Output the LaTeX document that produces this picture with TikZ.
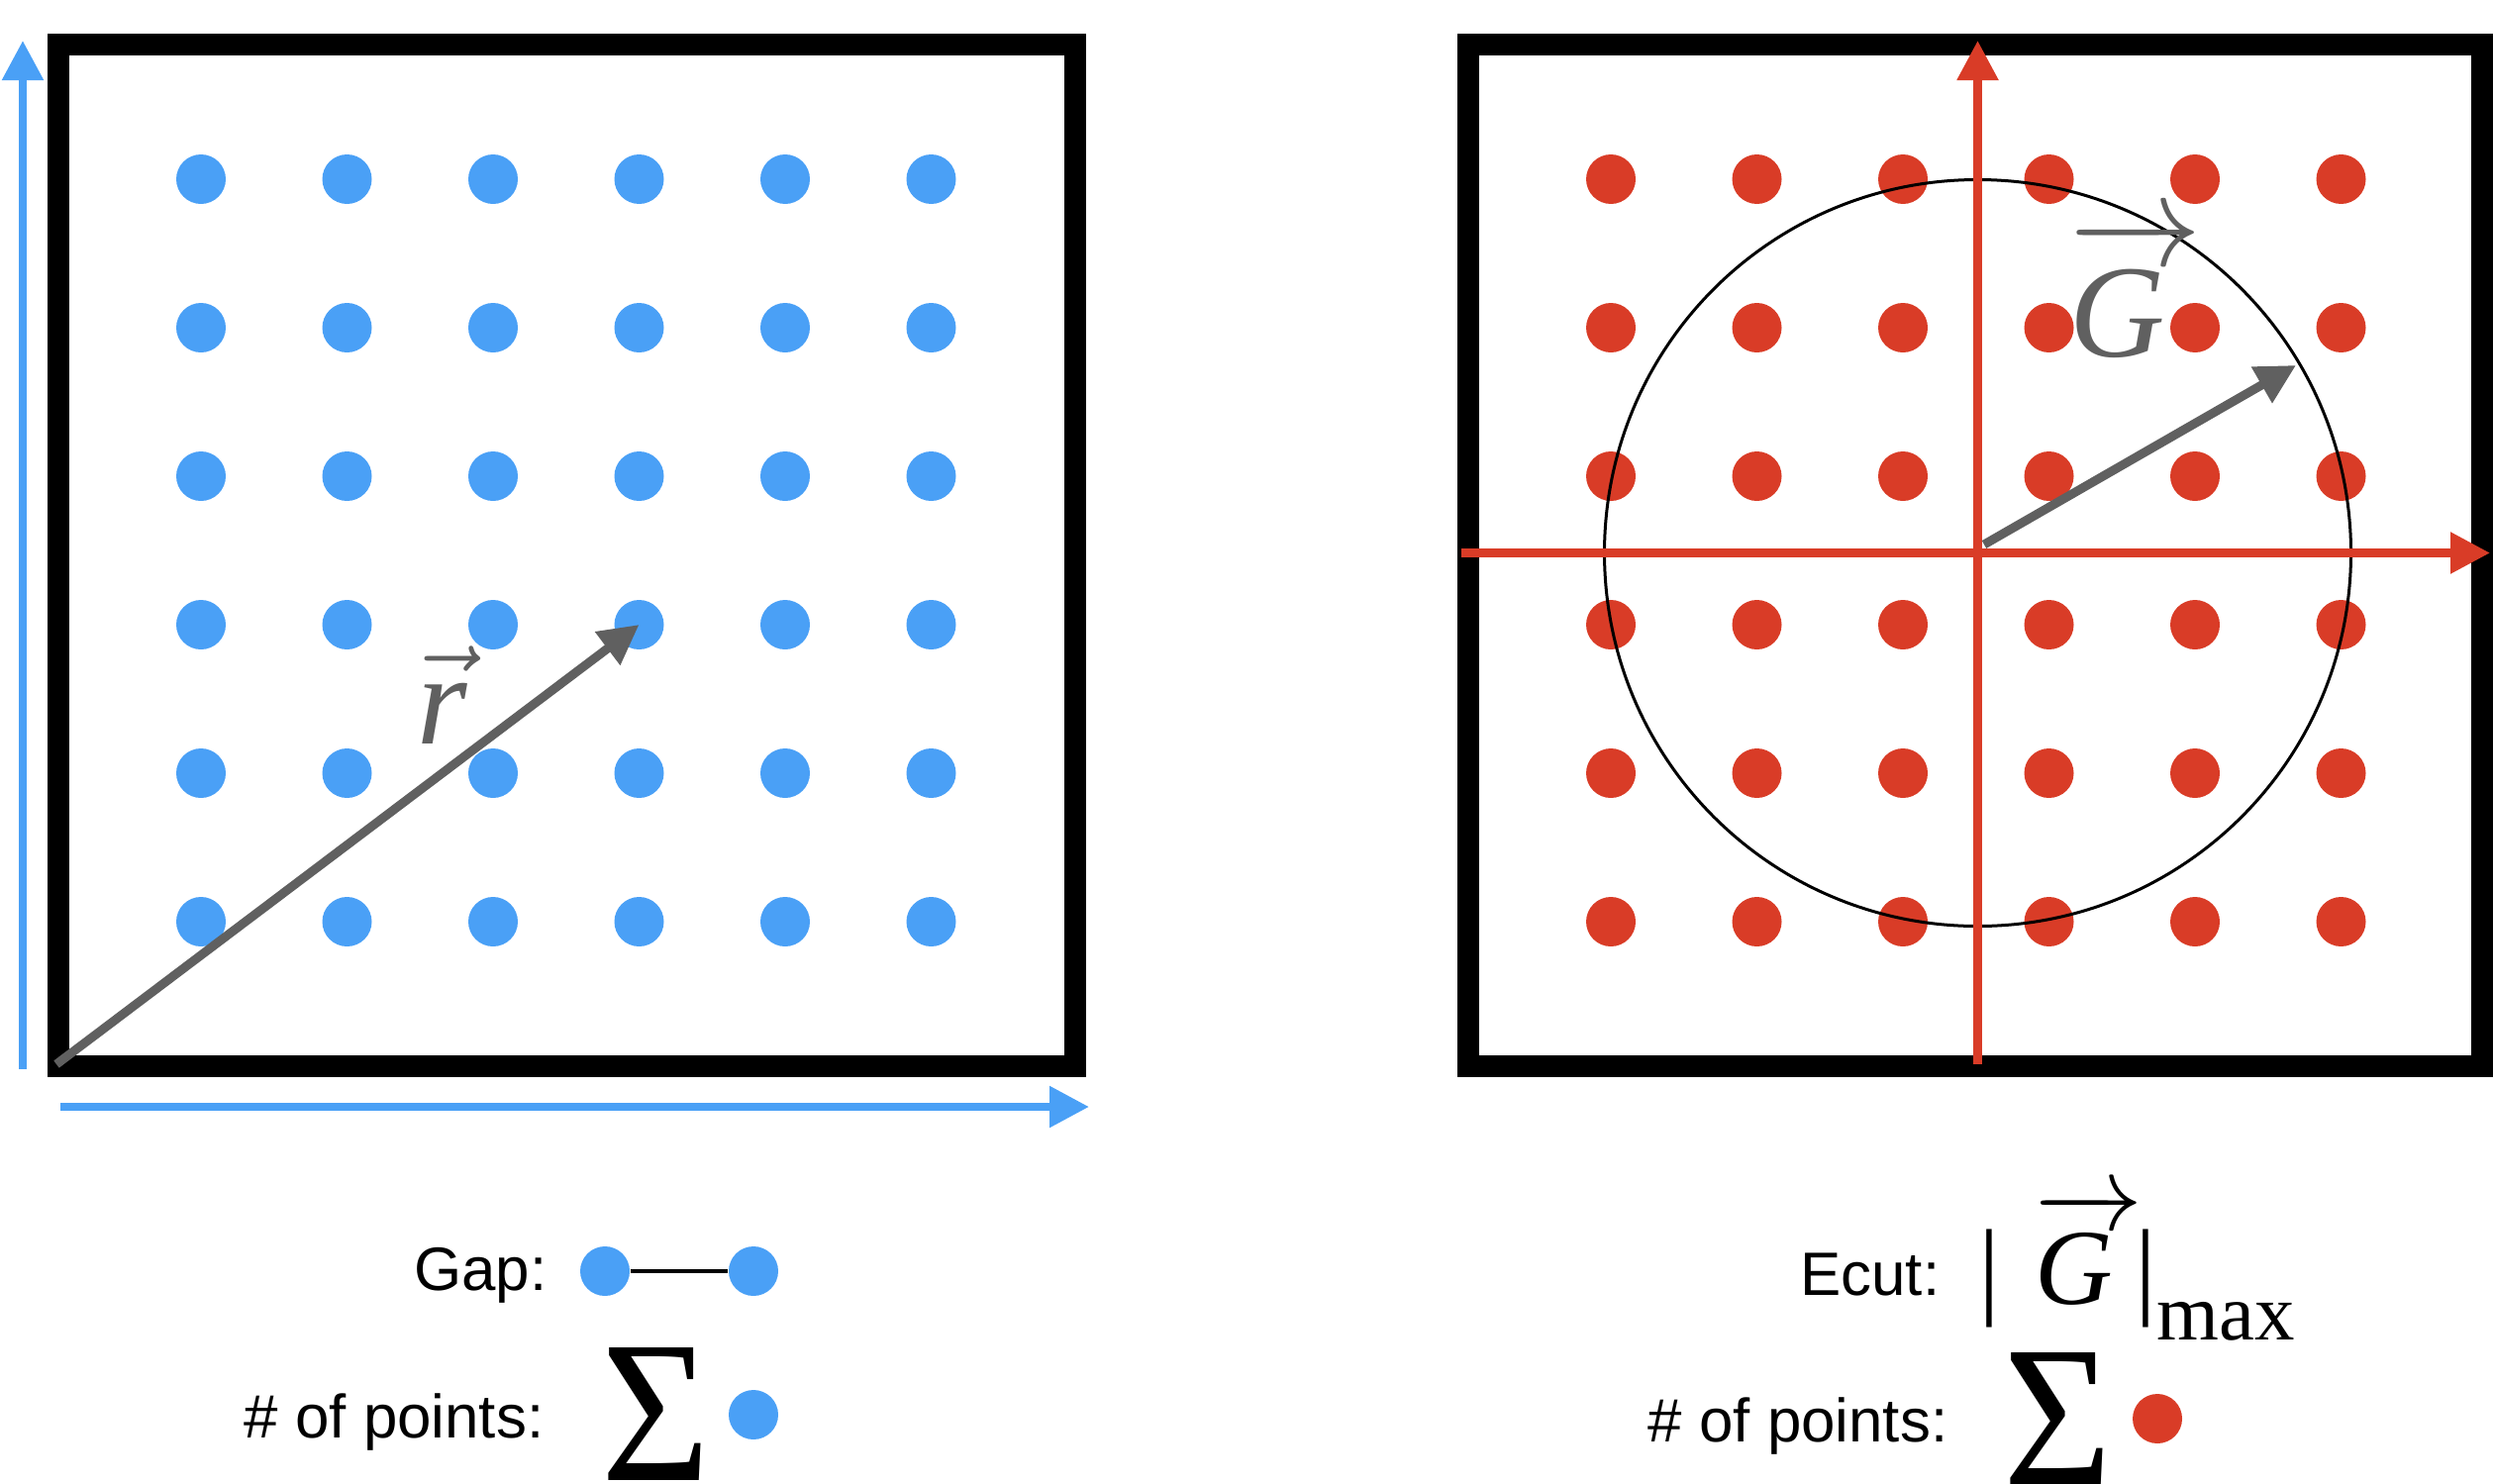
\RequirePackage{fix-cm}
\documentclass[tikz,border=0pt]{standalone}
\usepackage{fontspec}
\setmainfont{Liberation Sans}
\newfontfamily\tms{Liberation Serif}
\usetikzlibrary{arrows.meta}
\definecolor{ptblue}{RGB}{74,160,246}
\definecolor{ptred}{RGB}{217,60,39}
\definecolor{vecgray}{RGB}{96,96,96}
% long vector arrow, a bit wider than its letter
\newcommand{\ovec}[1]{\vbox{\offinterlineskip\tabskip=0pt\halign{##\cr\rightarrowfill\cr\noalign{\kern0.02em}#1\kern0.25em\cr}}}

\begin{document}
\begin{tikzpicture}[>={Triangle[length=4mm,width=4mm]}]
  \def\f{1.475}
  \def\fy{1.50}
\useasboundingbox (0,0) rectangle (25.18,-14.98);

\tikzstyle{bdot}=[circle,fill=ptblue,minimum size=5mm,inner sep=0pt]
\tikzstyle{rdot}=[circle,fill=ptred,minimum size=5mm,inner sep=0pt]
\tikzstyle{cell}=[draw,line width=2.2mm]
\tikzstyle{axis}=[->,line width=0.85mm]
\tikzstyle{vecline}=[->,vecgray,line width=0.9mm]
\tikzstyle{lbl}=[anchor=base east,inner sep=0pt,font=\fontsize{17.6}{20}\selectfont]
\tikzstyle{sigma}=[inner sep=0pt]

% real space grid
\draw[cell] (0.59,-0.45) rectangle (10.86,-10.77);
\foreach \i in {0,...,5}
  \foreach \j in {0,...,5}
    \node[bdot] (B\i\j) at (2.03+\i*\f,-1.81-\j*\fy) {};
\coordinate (ya) at (0.23,-10.80);
\coordinate (yb) at (0.23,-0.41);
\coordinate (xa) at (0.61,-11.18);
\coordinate (xb) at (11.00,-11.18);
\draw[axis,ptblue] (ya) -- (yb);
\draw[axis,ptblue] (xa) -- (xb);
\coordinate (O1) at (0.57,-10.75);
\draw[vecline] (O1) -- (B33.center);
\node[anchor=base,inner sep=0pt,text=vecgray,font=\fontsize{37}{40}\selectfont] (rlbl) at (4.47,-7.51) {$\vec{\mbox{\tms\itshape r}}$};

% reciprocal space grid
\draw[cell] (14.83,-0.45) rectangle (25.07,-10.77);
\foreach \i in {0,...,5}
  \foreach \j in {0,...,5}
    \node[rdot] (R\i\j) at (16.27+\i*\f,-1.81-\j*\fy) {};
\coordinate (O2) at (19.975,-5.585);
\node[draw,circle,minimum size=7.54cm,line width=0.3mm] (cut) at (O2) {};
\coordinate (ka) at (19.975,-10.75);
\coordinate (kb) at (19.975,-0.41);
\coordinate (ha) at (14.76,-5.585);
\coordinate (hb) at (25.15,-5.585);
\draw[axis,ptred] (ka) -- (kb);
\draw[axis,ptred] (ha) -- (hb);
\coordinate (g0) at (20.04,-5.50);
\coordinate (g1) at (23.19,-3.69);
\draw[vecline] (g0) -- (g1);
\node[anchor=base west,inner sep=0pt,text=vecgray,font=\tms\fontsize{38}{40}\selectfont] (Glbl) at (20.90,-3.60) {\ovec{\itshape G}};

% legend, left
\node[lbl] (gap) at (5.53,-13.03) {Gap:};
\node[bdot] (G1) at (6.11,-12.84) {};
\node[bdot] (G2) at (7.61,-12.84) {};
\draw[line width=0.4mm] (G1) -- (G2);
\node[lbl] (npts1) at (5.50,-14.52) {\# of points:};
\node[sigma] (sum1) at (6.62,-14.28) {\resizebox{1.10cm}{1.34cm}{\tms Σ}};
\node[bdot] (S1) at (7.61,-14.29) {};

% legend, right
\node[lbl] (ecut) at (19.60,-13.08) {Ecut:};
\node[anchor=base west,inner sep=0pt,font=\tms\fontsize{31}{34}\selectfont] (gmax) at (19.98,-13.17)
  {|\hspace{0.35cm}\ovec{\itshape G}\hspace{-0.08cm}|\raisebox{-0.36cm}{\fontsize{23}{25}\selectfont max}};
\node[lbl] (npts2) at (19.68,-14.56) {\# of points:};
\node[sigma] (sum2) at (20.78,-14.33) {\resizebox{1.10cm}{1.34cm}{\tms Σ}};
\node[rdot] (S2) at (21.79,-14.33) {};
\end{tikzpicture}
\end{document}
